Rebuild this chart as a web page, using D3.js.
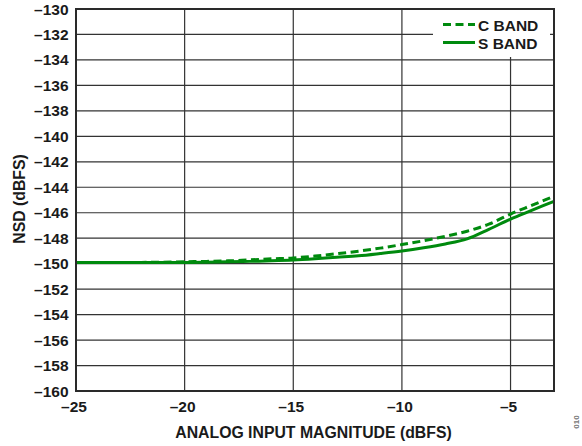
<!DOCTYPE html>
<html>
<head>
<meta charset="utf-8">
<script src="https://cdn.jsdelivr.net/npm/d3@7"></script>
<style>
  html, body { margin: 0; padding: 0; background: #fff; }
  svg text { font-family: "Liberation Sans", Arial, sans-serif; font-weight: bold; fill: #1a1a1a; }
</style>
</head>
<body>
<svg id="chart" width="582" height="446"></svg>
<script>
// values
const xTicks = [-25, -20, -15, -10, -5];
const yTicks = d3.range(-160, -129, 2);
const inputDbfs = [-25, -24, -23, -22, -21, -20, -19, -18, -17, -16, -15, -14, -13, -12, -11, -10, -9, -8, -7, -6, -5, -4, -3];
const cBand = [-149.9, -149.9, -149.9, -149.9, -149.88, -149.85, -149.82, -149.78, -149.7, -149.62, -149.55, -149.4, -149.22, -149.02, -148.78, -148.5, -148.2, -147.85, -147.45, -146.9, -146.1, -145.4, -144.7];
const sBand = [-149.9, -149.9, -149.9, -149.9, -149.9, -149.9, -149.88, -149.85, -149.82, -149.78, -149.72, -149.62, -149.5, -149.38, -149.2, -149.0, -148.75, -148.45, -148.05, -147.3, -146.5, -145.8, -145.1];
const series = [
  { name: "C BAND", values: cBand, dash: "8,4.5" },
  { name: "S BAND", values: sBand, dash: null },
];

const svg = d3.select("#chart");
const margin = { left: 76, top: 9, right: 28, bottom: 55 };
const W = 582, H = 446;

const x = d3.scaleLinear().domain([-25, -3]).range([margin.left, W - margin.right]);
const y = d3.scaleLinear().domain([-160, -130]).range([H - margin.bottom, margin.top]);
const fmt = (v) => (v < 0 ? "\u2013" + Math.abs(v) : String(v));

const grid = svg.append("g").attr("stroke", "#333").attr("stroke-width", 1.2);
grid.selectAll("line.h").data(yTicks).join("line").attr("class", "h")
  .attr("x1", x(-25)).attr("x2", x(-3))
  .attr("y1", (d) => y(d)).attr("y2", (d) => y(d));
grid.selectAll("line.v").data(xTicks).join("line").attr("class", "v")
  .attr("y1", y(-160)).attr("y2", y(-130))
  .attr("x1", (d) => x(d)).attr("x2", (d) => x(d));

// legend panel hides grid behind it
svg.append("rect").attr("x", 433).attr("y", y(-130) + 1).attr("width", 117).attr("height", 47).attr("fill", "#fff");

const line = d3.line().x((d, i) => x(inputDbfs[i])).y((d) => y(d)).curve(d3.curveMonotoneX);
svg.append("g").selectAll("path").data(series).join("path")
  .attr("d", (s) => line(s.values))
  .attr("fill", "none")
  .attr("stroke", "#008a0e")
  .attr("stroke-width", 3)
  .attr("stroke-dasharray", (s) => s.dash);

svg.append("rect")
  .attr("x", x(-25)).attr("y", y(-130))
  .attr("width", x(-3) - x(-25)).attr("height", y(-160) - y(-130))
  .attr("fill", "none").attr("stroke", "#2a2a2a").attr("stroke-width", 2);

// y tick labels
svg.append("g").selectAll("text").data(yTicks).join("text")
  .attr("x", 68.5).attr("y", (d) => y(d) + 5.5)
  .attr("text-anchor", "end").attr("font-size", 15.5)
  .text(fmt);

// x tick labels
svg.append("g").selectAll("text").data(xTicks).join("text")
  .attr("x", (d) => x(d) - 2).attr("y", 412)
  .attr("text-anchor", "middle").attr("font-size", 15.5)
  .text(fmt);

svg.append("text").attr("x", 313.5).attr("y", 438).attr("text-anchor", "middle")
  .attr("font-size", 15.8).text("ANALOG INPUT MAGNITUDE (dBFS)");
svg.append("text").attr("transform", "translate(24.5,199) rotate(-90)").attr("text-anchor", "middle")
  .attr("font-size", 15.8).text("NSD (dBFS)");

svg.append("text").attr("transform", "translate(579,422) rotate(-90)").attr("text-anchor", "middle")
  .attr("font-size", 8).attr("font-weight", "normal").style("fill", "#777").text("010");

// legend
const leg = svg.append("g").selectAll("g").data(series).join("g")
  .attr("transform", (d, i) => `translate(443,${24.5 + i * 18})`);
leg.append("line").attr("x1", 0).attr("x2", 32)
  .attr("stroke", "#008a0e").attr("stroke-width", 3)
  .attr("stroke-dasharray", (d) => d.dash);
leg.append("text").attr("x", 35).attr("y", 6).attr("font-size", 15.5).text((d) => d.name);
</script>
</body>
</html>
